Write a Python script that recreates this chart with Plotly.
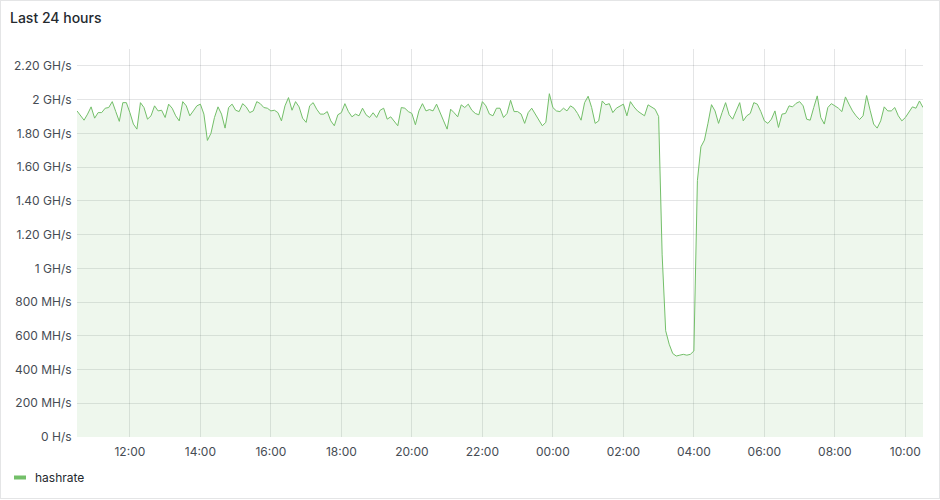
import pandas as pd
import plotly.graph_objects as go

# ---- data ----
title_text = "Last 24 hours"
series_name = "hashrate"
start_time = "2024-01-01 10:30"
end_time = "2024-01-02 10:30"
step = "6min"

# hashrate in GH/s, one reading every 6 minutes
hashrate_ghs = [
    1.933, 1.904, 1.878, 1.914, 1.957, 1.890, 1.923, 1.923, 1.949, 1.953,
    1.988, 1.929, 1.871, 1.982, 1.982, 1.923, 1.855, 1.825, 1.982, 1.953,
    1.884, 1.904, 1.963, 1.933, 1.937, 1.894, 1.973, 1.949, 1.904, 1.874,
    1.988, 1.963, 1.904, 1.933, 1.963, 1.973, 1.914, 1.758, 1.800, 1.894,
    1.957, 1.914, 1.831, 1.953, 1.973, 1.937, 1.929, 1.976, 1.957, 1.923,
    1.933, 1.988, 1.976, 1.953, 1.949, 1.933, 1.937, 1.923, 1.874, 1.963,
    2.012, 1.937, 1.988, 1.957, 1.890, 1.865, 1.963, 1.982, 1.943, 1.914,
    1.914, 1.929, 1.874, 1.845, 1.910, 1.923, 1.976, 1.929, 1.898, 1.914,
    1.904, 1.949, 1.910, 1.894, 1.922, 1.894, 1.937, 1.949, 1.884, 1.898,
    1.874, 1.845, 1.953, 1.949, 1.929, 1.918, 1.851, 1.933, 1.976, 1.933,
    1.941, 1.933, 1.973, 1.918, 1.874, 1.825, 1.943, 1.922, 1.898, 1.969,
    1.953, 1.973, 1.937, 1.918, 1.910, 1.988, 1.963, 1.914, 1.904, 1.949,
    1.949, 1.894, 1.918, 1.996, 1.929, 1.929, 1.914, 1.859, 1.923, 1.949,
    1.914, 1.874, 1.845, 1.865, 2.035, 1.953, 1.933, 1.929, 1.949, 1.933,
    1.963, 1.949, 1.918, 1.878, 1.982, 2.020, 1.953, 1.859, 1.874, 1.992,
    1.969, 1.976, 1.923, 1.949, 1.963, 1.973, 1.904, 1.988, 1.957, 1.933,
    1.918, 1.904, 1.969, 1.957, 1.943, 1.900, 1.080, 0.630, 0.550, 0.495,
    0.480, 0.485, 0.490, 0.485, 0.490, 0.510, 1.520, 1.720, 1.760, 1.860,
    1.970, 1.933, 1.859, 1.923, 1.982, 1.910, 1.884, 1.933, 1.982, 1.874,
    1.904, 1.918, 1.982, 1.973, 1.929, 1.874, 1.859, 1.884, 1.933, 1.835,
    1.914, 1.918, 1.963, 1.957, 1.978, 1.988, 1.963, 1.884, 1.878, 1.953,
    2.022, 1.894, 1.855, 1.953, 1.976, 1.963, 1.949, 1.929, 2.016, 1.973,
    1.933, 1.904, 1.882, 1.904, 2.024, 1.937, 1.855, 1.831, 1.874, 1.957,
    1.933, 1.933, 1.953, 1.904, 1.874, 1.894, 1.923, 1.957, 1.949, 1.992,
    1.953,
]

y_tick_values = [0, 0.2, 0.4, 0.6, 0.8, 1.0, 1.2, 1.4, 1.6, 1.8, 2.0, 2.2]
y_tick_labels = ["0 H/s", "200 MH/s", "400 MH/s", "600 MH/s", "800 MH/s", "1 GH/s",
                 "1.20 GH/s", "1.40 GH/s", "1.60 GH/s", "1.80 GH/s", "2 GH/s", "2.20 GH/s"]
y_max = 2.3

times = pd.date_range(start_time, periods=len(hashrate_ghs), freq=step)

# ---- style ----
GREEN = "#73BF69"
FILL = "rgba(115,191,105,0.12)"
GRID = "rgba(36,41,46,0.12)"
TEXT = "#464c54"
TITLE = "#24292e"
FONT = "Inter, Roboto, sans-serif"

W, H = 940, 500
L, R, T, B = 77, 17, 49, 63
PW, PH = W - L - R, H - T - B

def px_x(x):
    return (x - L) / PW

def px_y(y):
    return (H - B - y) / PH

fig = go.Figure()
fig.add_trace(go.Scatter(
    x=times, y=hashrate_ghs, mode="lines", name=series_name,
    line=dict(color=GREEN, width=1), fill="tozeroy", fillcolor=FILL,
    showlegend=False,
))

fig.update_layout(
    width=W, height=H,
    margin=dict(l=L, r=R, t=T, b=B),
    paper_bgcolor="white", plot_bgcolor="white",
    font=dict(family=FONT, size=12, color=TEXT),
    xaxis=dict(
        range=[start_time, end_time], type="date",
        tick0="2024-01-01 00:00", dtick=2 * 3600 * 1000, tickformat="%H:%M",
        showgrid=True, gridcolor=GRID, gridwidth=1,
        showline=False, zeroline=False,
        ticks="outside", ticklen=4, tickcolor="rgba(0,0,0,0)",
        tickfont=dict(family=FONT, size=12, color=TEXT),
    ),
    yaxis=dict(
        range=[0, y_max], tickvals=y_tick_values, ticktext=y_tick_labels,
        showgrid=True, gridcolor=GRID, gridwidth=1,
        showline=False, zeroline=False,
        ticks="outside", ticklen=2, tickcolor="rgba(0,0,0,0)",
        tickfont=dict(family=FONT, size=12, color=TEXT),
    ),
    shapes=[
        # panel border
        dict(type="rect", xref="paper", yref="paper",
             x0=px_x(0.5), x1=px_x(W - 0.5), y0=px_y(H - 1.5), y1=px_y(0.5),
             line=dict(color="rgba(36,41,46,0.12)", width=1), fillcolor="rgba(0,0,0,0)",
             layer="below"),
        # legend swatch
        dict(type="line", xref="paper", yref="paper",
             x0=px_x(14), x1=px_x(26), y0=px_y(477.5), y1=px_y(477.5),
             line=dict(color=GREEN, width=4)),
    ],
    annotations=[
        dict(text=title_text, xref="paper", yref="paper",
             x=px_x(8), y=px_y(17), xanchor="left", yanchor="middle", showarrow=False,
             font=dict(family=FONT, size=14, color=TITLE, weight=500)),
        dict(text=series_name, xref="paper", yref="paper",
             x=px_x(33), y=px_y(477), xanchor="left", yanchor="middle", showarrow=False,
             font=dict(family=FONT, size=12, color=TITLE)),
    ],
)

fig.write_html("out.html", config={"displayModeBar": False},
               post_script="document.body.style.margin='0';")
